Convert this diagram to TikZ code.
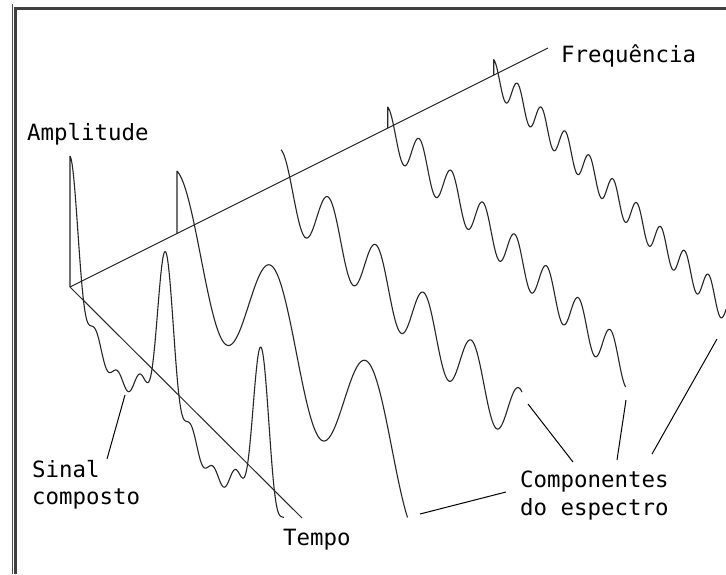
\documentclass[tikz,border=0pt]{standalone}
\usepackage{fontspec}
\newfontfamily\monofont{DejaVu Sans Mono}
\begin{document}
\begin{tikzpicture}[x=1pt,y=-1pt,
  wave/.style={line width=1.1pt, line join=round, black!85},
  axisline/.style={line width=1pt, black!85},
  leader/.style={line width=1pt, black},
  lbl/.style={font=\monofont\fontsize{22.4}{28}\selectfont, inner sep=0pt, anchor=base west},
  framebar/.style={line width=3pt, black!75}]
\useasboundingbox (0,0) rectangle (726,574);
\fill[white] (0,0) rectangle (726,574);
% frame
\draw[line width=1pt, black!70] (12.5,4) -- (12.5,574);
\draw[framebar] (15.5,7) -- (15.5,574);
\draw[framebar] (14,8.5) -- (726,8.5);
% axes
\coordinate (O) at (70,287);
\coordinate (F) at (548,48);
\coordinate (T) at (302,518);
\draw[axisline] (O) -- (F);
\draw[axisline] (O) -- (T);
\def\Aa{62.4}\def\Ab{31.8}\def\Ac{21.1}\def\Ad{15.5}
\pgfmathsetmacro{\ka}{360/95.5}
\pgfmathsetmacro{\kb}{2*\ka}
\pgfmathsetmacro{\kc}{3*\ka}
\pgfmathsetmacro{\kd}{4*\ka}
% composite signal
\coordinate (Otop) at (70,156.2);
\draw[wave] (O) -- (Otop) -- plot[domain=0:214, samples=420, variable=\t]
  ({70+\t}, {287+\t-\Aa*cos(\ka*\t)-\Ab*cos(\kb*\t)-\Ac*cos(\kc*\t)-\Ad*cos(\kd*\t)});
% spectral components
\coordinate (a0) at (177,233.5);
\draw[wave] (a0) -- plot[domain=0:230.5, samples=220, variable=\t]
  ({177+\t}, {233.5+\t-\Aa*cos(\ka*\t)});
\draw[wave] plot[domain=0:241, samples=260, variable=\t]
  ({281+\t}, {181.5+\t-\Ab*cos(\kb*\t)});
\coordinate (c0) at (387.7,128.15);
\draw[wave] (c0) -- plot[domain=0:238, samples=300, variable=\t]
  ({387.7+\t}, {128.15+\t-\Ac*cos(\kc*\t)});
\coordinate (d0) at (493.7,75.15);
\draw[wave] (d0) -- plot[domain=0:232.3, samples=320, variable=\t]
  ({493.7+\t}, {75.15+\t-\Ad*cos(\kd*\t)});
% labels
\node[lbl] (amp) at (27,140) {Amplitude};
\node[lbl] (freq) at (561,62) {Frequência};
\node[lbl] (sinal) at (32,477) {Sinal};
\node[lbl] (composto) at (32,504) {composto};
\node[lbl] (tempo) at (283,545) {Tempo};
\node[lbl] (compon) at (520,487) {Componentes};
\node[lbl] (espec) at (520,515) {do espectro};
% leaders
\coordinate (s1) at (107,459); \coordinate (s2) at (125,395);
\coordinate (l1a) at (420,514); \coordinate (l1b) at (506,492);
\coordinate (l2a) at (573,462); \coordinate (l2b) at (528,404);
\coordinate (l3a) at (617,460); \coordinate (l3b) at (626,400);
\coordinate (l4a) at (652,454); \coordinate (l4b) at (717,339);
\draw[leader] (s1) -- (s2);
\draw[leader] (l1a) -- (l1b);
\draw[leader] (l2a) -- (l2b);
\draw[leader] (l3a) -- (l3b);
\draw[leader] (l4a) -- (l4b);
\end{tikzpicture}
\end{document}
